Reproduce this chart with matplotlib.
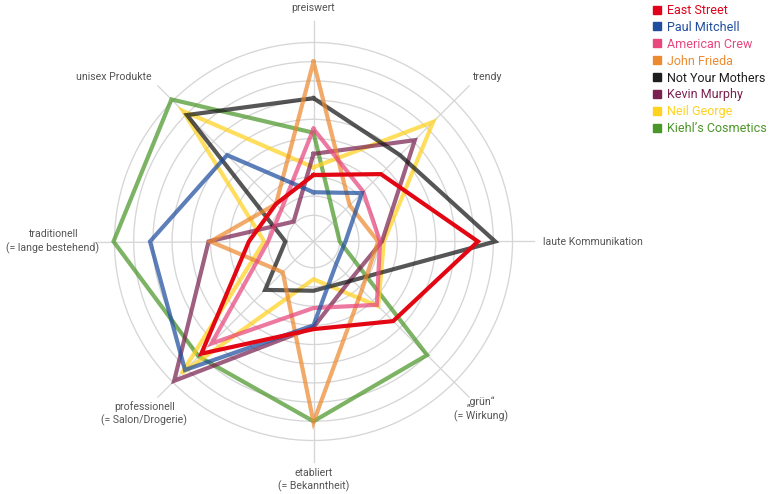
import matplotlib.pyplot as plt
import numpy as np
from matplotlib.lines import Line2D

plt.rcParams['font.family'] = ['Roboto', 'DejaVu Sans']

# ===== data =====
axis_labels = [
    "preiswert",
    "trendy",
    "laute Kommunikation",
    "\u201egr\u00fcn\u201c\n(= Wirkung)",
    "etabliert\n(= Bekanntheit)",
    "professionell\n(= Salon/Drogerie)",
    "traditionell\n(= lange bestehend)",
    "unisex Produkte",
]
brands = ["East Street", "Paul Mitchell", "American Crew", "John Frieda",
          "Not Your Mothers", "Kevin Murphy", "Neil George", "Kiehl\u2019s Cosmetics"]

# order: preiswert, trendy, laute, gruen, etabliert, professionell, traditionell, unisex
east_street = [3.1, 4.6, 8.2, 5.5, 4.2, 7.9, 3.0, 2.4]
paul_mitchell = [2.2, 3.2, 1.3, 1.3, 4.0, 9.1, 8.15, 6.0]
american_crew = [5.5, 3.3, 3.1, 4.3, 3.1, 7.15, 2.0, 2.0]
john_frieda = [9.0, 2.3, 3.0, 3.2, 9.05, 1.9, 5.0, 2.4]
not_your_mothers = [7.1, 6.0, 9.1, 2.5, 2.2, 3.2, 1.1, 8.95]
kevin_murphy = [4.2, 7.1, 3.2, 2.4, 4.1, 9.9, 5.1, 1.1]
neil_george = [3.5, 8.45, 3.3, 4.4, 1.6, 9.35, 2.2, 9.25]
kiehls = [5.3, 1.2, 1.0, 8.0, 9.0, 8.1, 10.05, 10.1]
series = [east_street, paul_mitchell, american_crew, john_frieda,
          not_your_mothers, kevin_murphy, neil_george, kiehls]
rings = list(range(1, 11))

# ===== styling =====
colors = ["#E30613", "#1F4E9E", "#E8467C", "#EC8A2F",
          "#151515", "#7A2150", "#FFD21F", "#4B9628"]
alphas = [1.0, 0.72, 0.72, 0.72, 0.72, 0.72, 0.72, 0.72]
legend_colors = ["#E2001A", "#1F4E9E", "#E8467C", "#EC8A2F",
                 "#1E1E1E", "#7A2150", "#FFD21F", "#4B9628"]
grid_color = "#d6d6d6"
label_color = "#555555"

R_ORIGIN = -0.365
R_MAX = 11.5
SPOKE_END = 11.1
# label placement (theta in degrees clockwise from top, radius in value units)
label_pos = [
    (0, 11.8, "center", "center"),
    (46.5, 12.1, "center", "center"),
    (90, 11.6, "left", "center"),
    (135, 12.0, "center", "center"),
    (180, 12.05, "center", "center"),
    (224.5, 12.2, "center", "center"),
    (270, 10.8, "right", "center"),
    (309.5, 13.1, "center", "center"),
]

fig = plt.figure(figsize=(7.79, 4.94), dpi=100)
cx, cy, rad = 313.5, 241.5, 227.8
ax = fig.add_axes([(cx - rad) / 779, (494 - cy - rad) / 494, 2 * rad / 779, 2 * rad / 494],
                  projection="polar")
ax.set_theta_zero_location("N")
ax.set_theta_direction(-1)

n = len(axis_labels)
theta = np.arange(n) * 2 * np.pi / n

# spokes through the centre (not clipped by the inner hole)
for t in theta:
    ax.plot([t, t], [R_ORIGIN, SPOKE_END], color=grid_color, lw=0.95, zorder=1, clip_on=False)

# series, last brand drawn first so East Street sits on top
for i in reversed(range(len(series))):
    vals = np.append(series[i], series[i][0])
    th = np.append(theta, theta[0])
    ax.plot(th, vals, color=colors[i], alpha=alphas[i], lw=3.0,
            solid_joinstyle="miter", zorder=3 + (len(series) - i), clip_on=False)

ax.set_ylim(0, R_MAX)
ax.set_rorigin(R_ORIGIN)
ax.set_xticks([])
ax.set_yticks(rings)
ax.set_yticklabels([])
ax.yaxis.grid(True, color=grid_color, lw=0.95)
ax.xaxis.grid(False)
for s in ax.spines.values():
    s.set_color("none")
    s.set_linewidth(0)
ax.patch.set_visible(False)

for lab, (deg, r, ha, va) in zip(axis_labels, label_pos):
    ax.text(np.deg2rad(deg), r, lab, ha=ha, va=va, multialignment="center",
            fontsize=7.6, color=label_color, linespacing=1.35)

handles = [Line2D([], [], marker="s", ls="none", color=c, markersize=5.5) for c in legend_colors]
fig.legend(handles, brands, loc="upper left", bbox_to_anchor=(651 / 779, 1 - 4 / 494),
           frameon=False, handletextpad=0.4, handlelength=0.9, labelspacing=0.31,
           fontsize=9, borderaxespad=0, borderpad=0, labelcolor=legend_colors)

fig.savefig("out.png", dpi=100, facecolor="white")
